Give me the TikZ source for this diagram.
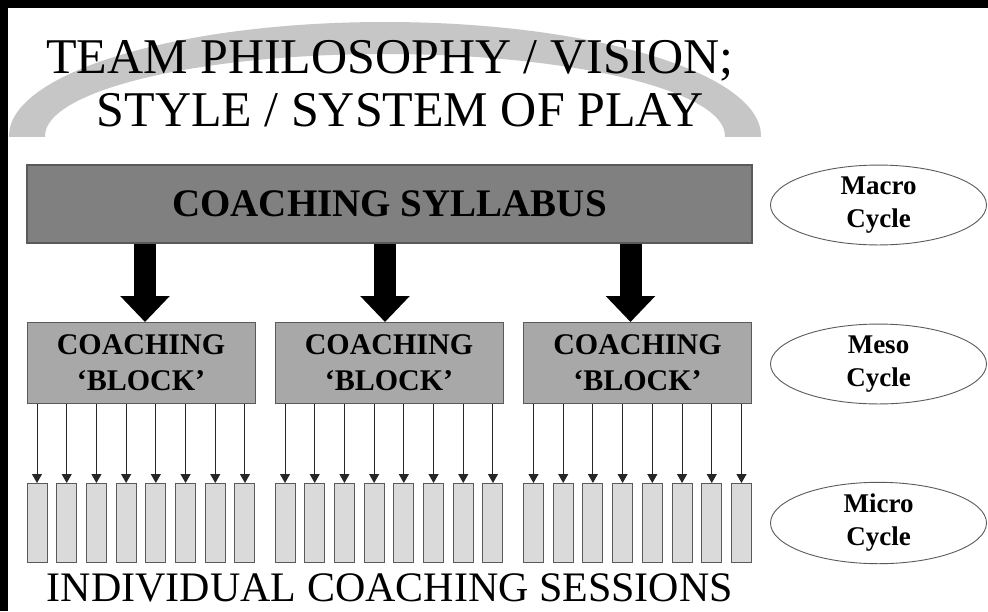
\documentclass[tikz,border=0pt]{standalone}
\usepackage{fontspec}
\setmainfont{Liberation Serif}
\usetikzlibrary{arrows.meta,shapes.geometric}
\definecolor{arcgray}{HTML}{C6C6C6}
\definecolor{sylgray}{HTML}{808080}
\definecolor{blkgray}{HTML}{A8A8A8}
\definecolor{sesgray}{HTML}{DADADA}
\definecolor{edgegray}{HTML}{5A5A5A}
\tikzset{
  titletext/.style={anchor=base, inner sep=0pt, font=\fontsize{50}{56}\selectfont},
  sylbox/.style={draw=edgegray, line width=1.2pt, fill=sylgray, minimum width=725pt, minimum height=78pt, inner sep=0pt, font=\bfseries\fontsize{39}{44}\selectfont},
  blockbox/.style={draw=edgegray, line width=1pt, fill=blkgray, minimum width=228pt, minimum height=81pt, inner sep=0pt, align=center, font=\bfseries\fontsize{30}{36}\selectfont},
  sessbox/.style={draw=edgegray, line width=1pt, fill=sesgray, minimum width=20pt, minimum height=79pt, inner sep=0pt},
  cyclebox/.style={ellipse, draw=edgegray, line width=0.9pt, minimum width=216pt, minimum height=79pt, inner sep=0pt, align=center, font=\bfseries\fontsize{27}{33}\selectfont},
  bigarrow/.style={line width=22pt, -{Triangle[width=48pt,length=26pt]}},
  smallarrow/.style={draw=black!85, line width=1pt, -{Triangle[width=10pt,length=9pt]}}
}
\begin{document}
\begin{tikzpicture}[x=1pt,y=-1pt]
\useasboundingbox (0,0) rectangle (988,611);
\fill[white] (0,0) rectangle (988,611);
\fill[black] (0,0) rectangle (988,8);
\fill[black] (0,0) rectangle (8,611);
% arch
\begin{scope}
  \clip (0,0) rectangle (988,136);
  \fill[arcgray, even odd rule] (385,136) ellipse[x radius=376, y radius=114] (385,136) ellipse[x radius=340, y radius=82];
\end{scope}
% title
\node[titletext] (t1) at (390,73) {TEAM PHILOSOPHY / VISION;};
\node[titletext] (t2) at (400,126) {STYLE / SYSTEM OF PLAY};
% syllabus
\node[sylbox] (syl) at (389.5,204) {COACHING SYLLABUS};
% blocks
\node[blockbox] (b1) at (141,363) {COACHING\\‘BLOCK’};
\node[blockbox] (b2) at (389,363) {COACHING\\‘BLOCK’};
\node[blockbox] (b3) at (637.5,363) {COACHING\\‘BLOCK’};
% big arrows
\draw[bigarrow] ([xshift=4pt]syl.south -| b1) -- ([xshift=4pt]b1.north);
\draw[bigarrow] ([xshift=-4pt]syl.south -| b2) -- ([xshift=-4pt]b2.north);
\draw[bigarrow] ([xshift=-7pt]syl.south -| b3) -- ([xshift=-7pt]b3.north);
% sessions and small arrows
\foreach \i/\lx in {1/27,2/275,3/523.5}{
  \foreach \k in {0,...,7}{
    \node[sessbox] (s-\i-\k) at ({\lx+10+\k*29.71},523) {};
    \draw[smallarrow] (b\i.south -| s-\i-\k) -- (s-\i-\k.north);
  }
}
% bottom label
\node[anchor=base, inner sep=0pt, font=\fontsize{42}{48}\selectfont] (ind) at (390,601) {INDIVIDUAL COACHING SESSIONS};
% cycles
\node[cyclebox] (mac) at (878.5,205) {Macro\\Cycle};
\node[cyclebox] (mes) at (878.5,364) {Meso\\Cycle};
\node[cyclebox] (mic) at (878.5,523) {Micro\\Cycle};
\end{tikzpicture}
\end{document}
